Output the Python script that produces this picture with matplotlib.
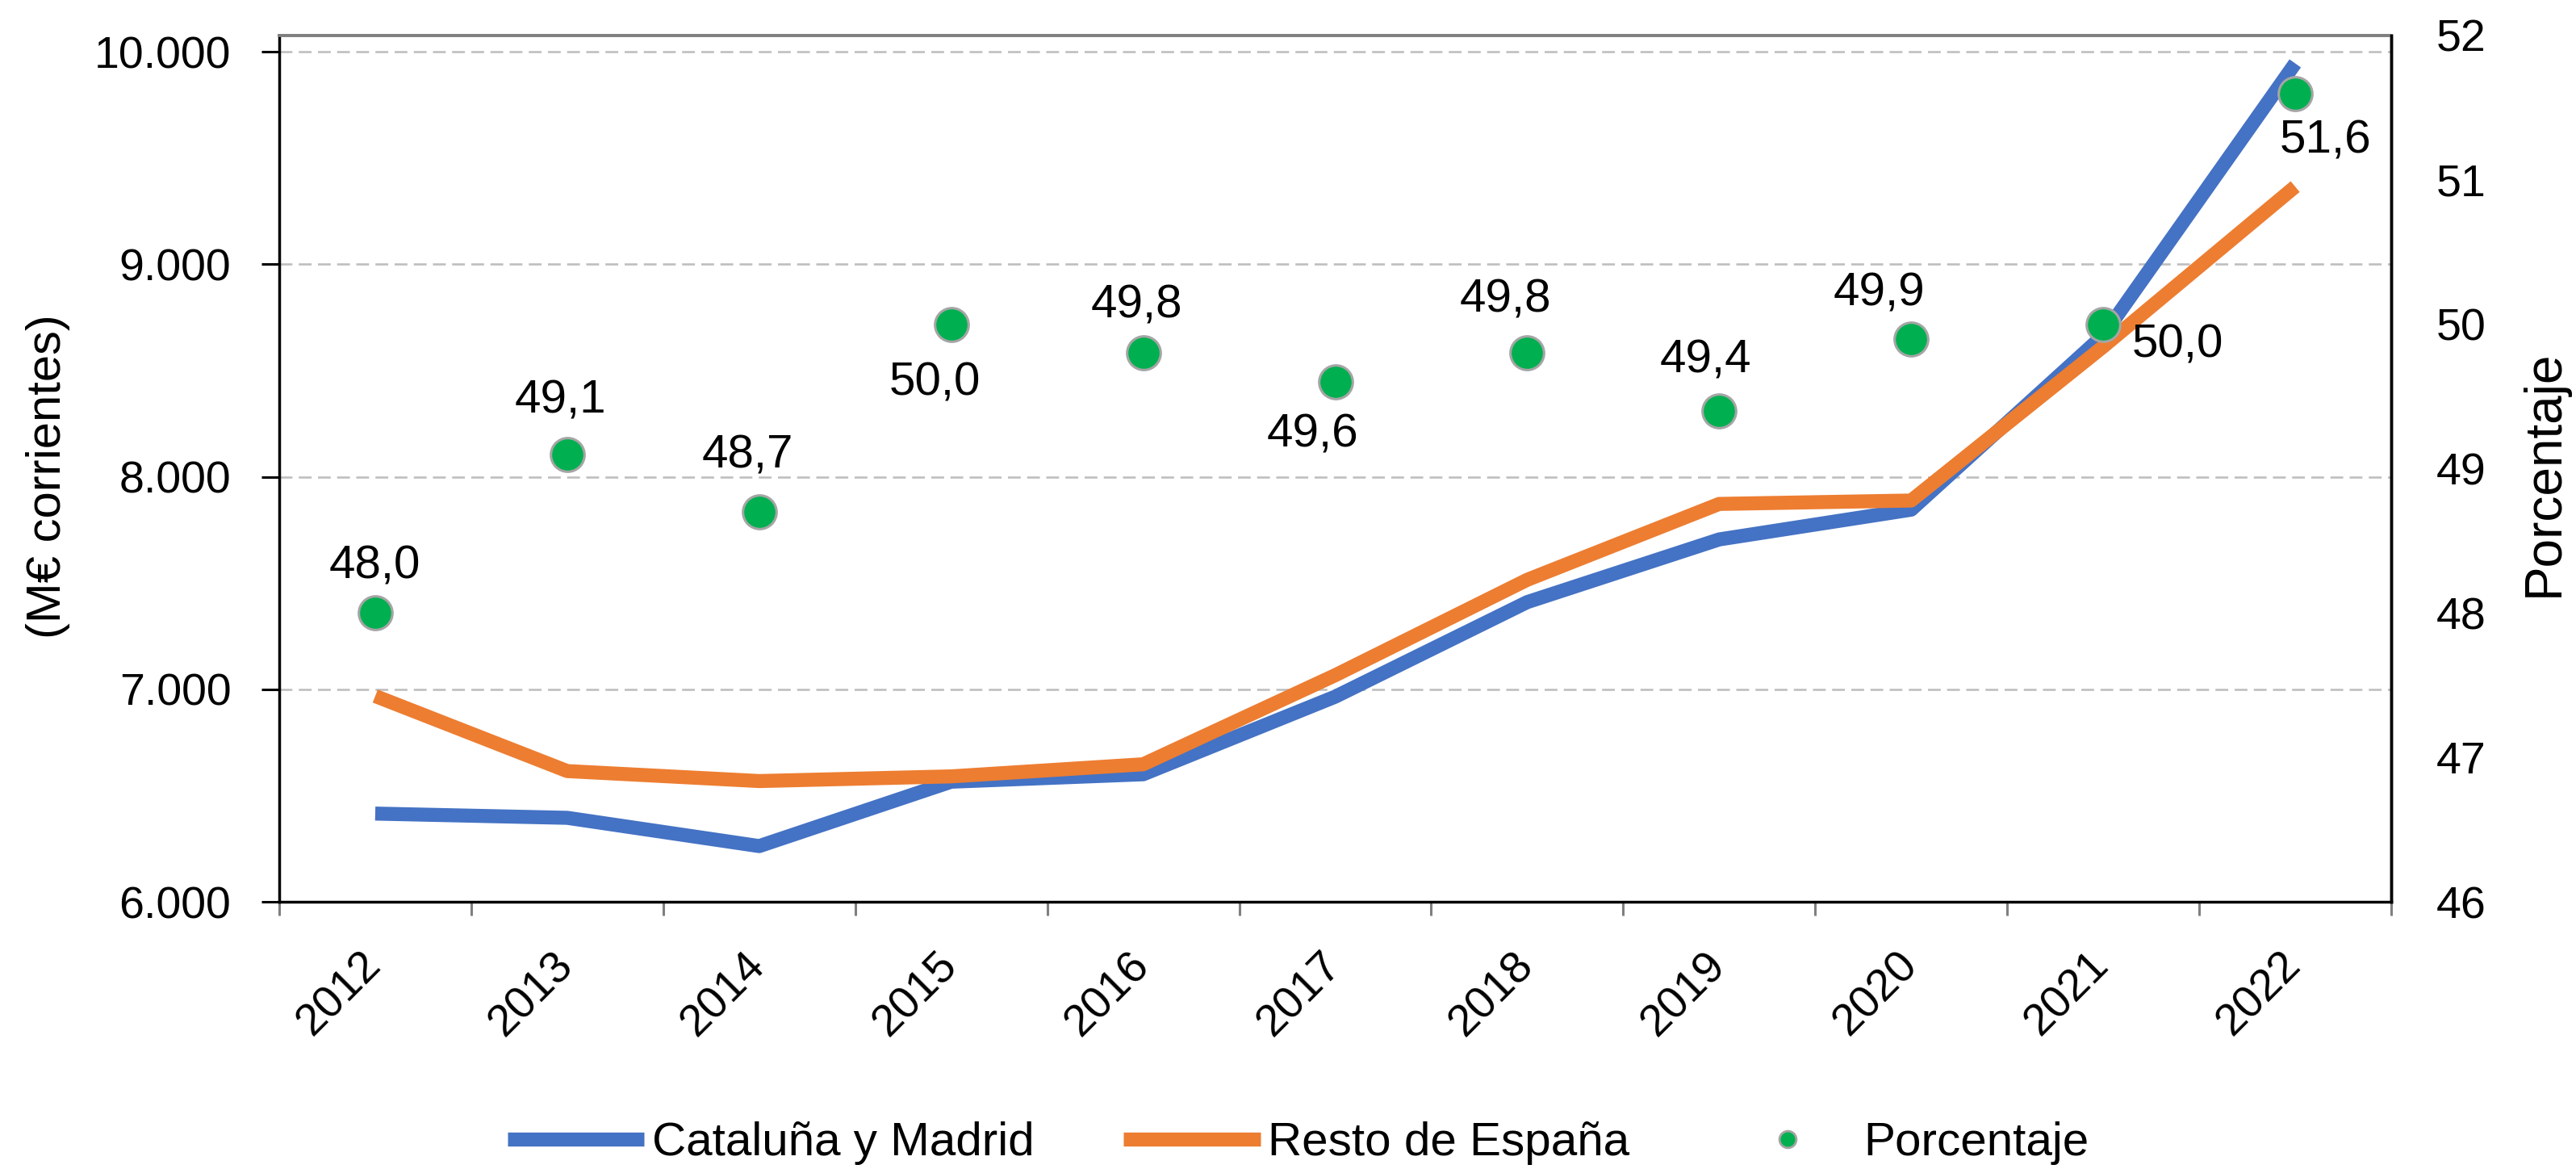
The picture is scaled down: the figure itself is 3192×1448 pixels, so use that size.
import numpy as np
import matplotlib
matplotlib.use('Agg')
import matplotlib.pyplot as plt
import matplotlib.transforms as mtransforms
from matplotlib.ticker import FuncFormatter
from matplotlib.lines import Line2D

plt.rcParams['font.family'] = ['Liberation Sans', 'DejaVu Sans']

# ---- data ----
years = ['2012', '2013', '2014', '2015', '2016', '2017', '2018', '2019', '2020', '2021', '2022']
cataluna_madrid = [6415, 6395, 6262, 6565, 6600, 6965, 7410, 7705, 7845, 8665, 9945]
resto_espana = [6968, 6615, 6568, 6590, 6647, 7066, 7515, 7872, 7888, 8612, 9365]
porcentaje = [48.0, 49.1, 48.7, 50.0, 49.8, 49.6, 49.8, 49.4, 49.9, 50.0, 51.6]
left_ticks = [6000, 7000, 8000, 9000, 10000]
right_ticks = [46, 47, 48, 49, 50, 51, 52]
series_names = ['Cataluña y Madrid', 'Resto de España', 'Porcentaje']

# label offsets in pixels (dx right, dy down) relative to each point
label_offsets = [(-1, -58), (-8, -66), (-14, -70), (-20, 73), (-8, -59), (-28, 65),
                 (-27, -66), (-17, -62), (-40, -56), (92, 26), (38, 59)]

BLUE = '#4472C4'
ORANGE = '#ED7D31'
GREEN = '#00B050'
FS = 42
TICK_FS = 40

fig = plt.figure(figsize=(31.92, 14.48), dpi=100)
ax = fig.add_axes([346 / 3192, 1 - 1117 / 1448, (2963 - 346) / 3192, (1117 - 44) / 1448])
x = np.arange(len(years))

# gridlines
for yv in left_ticks[1:]:
    ax.axhline(yv, color='#BFBFBF', lw=1.9, ls=(0, (6, 3)), zorder=1)

ax.plot(x, cataluna_madrid, color=BLUE, lw=12.5, solid_joinstyle='round',
        solid_capstyle='butt', zorder=3)
ax.plot(x, resto_espana, color=ORANGE, lw=12.5, solid_joinstyle='round',
        solid_capstyle='butt', zorder=3)

ax.set_xlim(-0.5, len(years) - 0.5)
ax.set_ylim(6000, 10076)
ax.set_yticks(left_ticks)
ax.yaxis.set_major_formatter(FuncFormatter(lambda v, p: f'{int(v):,}'.replace(',', '.')))
ax.tick_params(axis='y', length=16, width=2.2, color='black', labelsize=TICK_FS, pad=27)

ax.set_xticks(x)
ax.set_xticklabels(years, rotation=45, ha='right', va='top', rotation_mode='anchor',
                   fontsize=TICK_FS)
ax.tick_params(axis='x', which='major', length=0, pad=38)
ax.set_xticks(np.arange(-0.5, len(years), 1), minor=True)
ax.tick_params(axis='x', which='minor', length=12, width=2.2, color='#7F7F7F', direction='out')
shift = mtransforms.ScaledTranslation(-0.19, 0, fig.dpi_scale_trans)
for lbl in ax.get_xticklabels():
    lbl.set_transform(lbl.get_transform() + shift)

for s in ['left', 'bottom', 'right']:
    ax.spines[s].set_color('black')
    ax.spines[s].set_linewidth(2.5)
ax.spines['top'].set_color('#7F7F7F')
ax.spines['top'].set_linewidth(2.8)

# secondary axis
ax2 = ax.twinx()
ax2.set_ylim(46, 52)
ax2.set_yticks(right_ticks)
ax2.tick_params(axis='y', length=0, pad=40, labelsize=TICK_FS)
for s in ['left', 'top', 'bottom']:
    ax2.spines[s].set_visible(False)
ax2.spines['right'].set_color('black')
ax2.spines['right'].set_linewidth(2.5)

ax2.plot(x, porcentaje, ls='none', marker='o', ms=30, mfc=GREEN, mec='#A5A5A5',
         mew=2.2, zorder=5)
for xi, pv, (dx, dy) in zip(x, porcentaje, label_offsets):
    ax2.annotate(f'{pv:.1f}'.replace('.', ','), (xi, pv), xytext=(dx * 0.72, -dy * 0.72),
                 textcoords='offset points', ha='center', va='center', fontsize=FS,
                 color='black', zorder=6)

# axis titles
fig.text(60 / 3192, 1 - 590 / 1448, '(M€ corrientes)', rotation=90, ha='center',
         va='center', fontsize=43)
fig.text(3153 / 3192, 1 - 586 / 1448, 'Porcentaje', rotation=90, ha='center',
         va='center', fontsize=46)

# legend
handles = [Line2D([], [], color=BLUE, lw=12.5, solid_capstyle='butt'),
           Line2D([], [], color=ORANGE, lw=12.5, solid_capstyle='butt'),
           Line2D([], [], ls='none', marker='o', ms=15, mfc=GREEN, mec='#A5A5A5', mew=2)]
fig.legend(handles, series_names, loc='center', bbox_to_anchor=(0.504, 0.022), ncol=3,
           frameon=False, fontsize=FS, handlelength=2.9, handletextpad=0.17,
           columnspacing=1.9, borderpad=0, borderaxespad=0)

fig.savefig('out.png', dpi=100)
